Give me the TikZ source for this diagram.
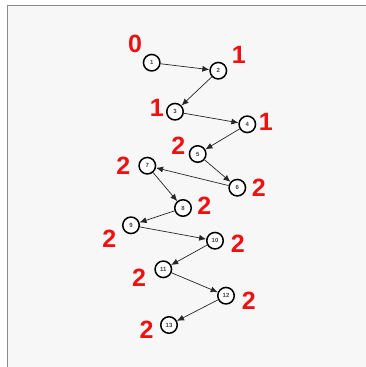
\documentclass[tikz,border=0pt]{standalone}
\usepackage{fontspec}
\setmainfont{Liberation Sans}
\usetikzlibrary{arrows.meta}
\definecolor{bgin}{HTML}{F7F7F7}
\definecolor{frame}{HTML}{8A8A8A}
\definecolor{lblred}{HTML}{EE1111}
\tikzset{
  vtx/.style={circle, draw=black, line width=1.5pt, fill=white, minimum size=16.5pt, inner sep=0pt, font=\fontsize{6}{6}\selectfont\bfseries, text=black!75},
  lvl/.style={text=lblred, font=\fontsize{25}{25}\selectfont\bfseries, inner sep=0pt},
  edge/.style={draw=black!85, line width=0.7pt, -{Latex[length=7pt,width=6pt]}}
}
\begin{document}
\begin{tikzpicture}[x=1pt,y=-1pt]
\useasboundingbox (0,0) rectangle (366,367);
\fill[white] (0,0) rectangle (366,367);
\fill[bgin] (7,5) rectangle (366,367);
\draw[frame, line width=1pt] (7,367) -- (7,5) -- (366,5);
\node[vtx] (n1) at (151.7,62.7) {1};
\node[vtx] (n2) at (218.3,70.7) {2};
\node[vtx] (n3) at (175,111.7) {3};
\node[vtx] (n4) at (247.3,124.3) {4};
\node[vtx] (n5) at (197.7,154) {5};
\node[vtx] (n6) at (237.3,187.7) {6};
\node[vtx] (n7) at (147.3,165.7) {7};
\node[vtx] (n8) at (183,208) {8};
\node[vtx] (n9) at (131,225.3) {9};
\node[vtx] (n10) at (215,240.7) {10};
\node[vtx] (n11) at (163.3,269.3) {11};
\node[vtx] (n12) at (226,295.7) {12};
\node[vtx] (n13) at (169,325) {13};
\draw[edge] (n1) -- (n2);
\draw[edge] (n2) -- (n3);
\draw[edge] (n3) -- (n4);
\draw[edge] (n4) -- (n5);
\draw[edge] (n5) -- (n6);
\draw[edge] (n6) -- (n7);
\draw[edge] (n7) -- (n8);
\draw[edge] (n8) -- (n9);
\draw[edge] (n9) -- (n10);
\draw[edge] (n10) -- (n11);
\draw[edge] (n11) -- (n12);
\draw[edge] (n12) -- (n13);
\node[lvl] (l1) at (135,44.3) {0};
\node[lvl] (l2) at (238.7,55) {1};
\node[lvl] (l3) at (156.7,108.3) {1};
\node[lvl] (l4) at (265.7,122.3) {1};
\node[lvl] (l5) at (178.3,145.7) {2};
\node[lvl] (l7) at (123.3,165.7) {2};
\node[lvl] (l6) at (258.7,187.7) {2};
\node[lvl] (l8) at (204.3,205.7) {2};
\node[lvl] (l9) at (109.3,238.3) {2};
\node[lvl] (l10) at (237.7,243.3) {2};
\node[lvl] (l11) at (139,277.3) {2};
\node[lvl] (l12) at (248.7,300.7) {2};
\node[lvl] (l13) at (146.7,330) {2};
\end{tikzpicture}
\end{document}
